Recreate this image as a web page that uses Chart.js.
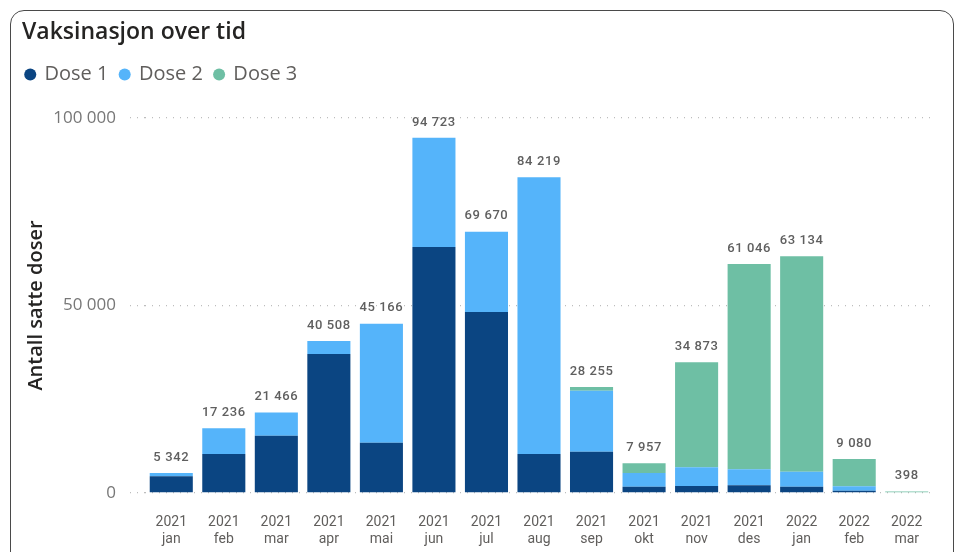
<!DOCTYPE html>
<html>
<head>
<meta charset="utf-8">
<script src="https://cdn.jsdelivr.net/npm/chart.js@4.4.1/dist/chart.umd.min.js"></script>
<style>
  body { margin: 0; background: #fff; }
  #wrap { position: relative; width: 957px; height: 552px; }
  #card { position: absolute; left: 10px; top: 10px; width: 944px; height: 560px;
          border: 1.5px solid #4a4a4a; border-radius: 14px; box-sizing: border-box; pointer-events: none; }
  canvas { position: absolute; left: 0; top: 0; }
</style>
</head>
<body>
<div id="wrap">
  <canvas id="chart" width="957" height="552"></canvas>
  <div id="card"></div>
</div>
<script>
var years = ["2021","2021","2021","2021","2021","2021","2021","2021","2021","2021","2021","2021","2022","2022","2022"];
var months = ["jan","feb","mar","apr","mai","jun","jul","aug","sep","okt","nov","des","jan","feb","mar"];
var dose1 = [4500, 10400, 15280, 37070, 13400, 65600, 48270, 10400, 11000, 1700, 1870, 2050, 1700, 600, 0];
var dose2 = [842, 6836, 6186, 3438, 31766, 29123, 21400, 73819, 16280, 3630, 4980, 4270, 3990, 1180, 0];
var dose3 = [0, 0, 0, 0, 0, 0, 0, 0, 975, 2627, 28023, 54726, 57444, 7300, 398];
var yTicks = [0, 50000, 100000];

function fmt(n) {
    return String(n).replace(/\B(?=(\d{3})+(?!\d))/g, " ");
}

var labels = [];
for (var i = 0; i < months.length; i++) labels.push([years[i], months[i]]);

// totals above each stacked bar
var totalsPlugin = {
    id: 'totals',
    afterDatasetsDraw: function(chart) {
        var ctx = chart.ctx;
        var x = chart.scales.x, y = chart.scales.y;
        ctx.save();
        ctx.font = '500 13px Roboto';
        ctx.letterSpacing = '0.6px';
        ctx.fillStyle = '#5f5f5f';
        ctx.textAlign = 'center';
        ctx.textBaseline = 'bottom';
        for (var i = 0; i < months.length; i++) {
            var t = dose1[i] + dose2[i] + dose3[i];
            ctx.fillText(fmt(t), x.getPixelForValue(i), y.getPixelForValue(t) - 9);
        }
        ctx.restore();
    }
};

// extra room under the legend, and pull it a bit left
var legendGap = {
    id: 'legendGap',
    beforeInit: function(chart) {
        var fit = chart.legend.fit;
        chart.legend.fit = function() {
            fit.bind(chart.legend)();
            this.height = 65.6;
        };
    },
    beforeDraw: function(chart) {
        chart.legend.left = 14;
    }
};

var ctx = document.getElementById("chart").getContext("2d");
new Chart(ctx, {
    type: 'bar',
    data: {
        labels: labels,
        datasets: [
            { label: "Dose 1", data: dose1, backgroundColor: "#0B4582" },
            { label: "Dose 2", data: dose2, backgroundColor: "#55B4FA" },
            { label: "Dose 3", data: dose3, backgroundColor: "#6EBFA4" }
        ]
    },
    options: {
        responsive: false,
        animation: false,
        events: [],
        layout: { padding: { left: 22, right: 24, top: 0, bottom: 0 } },
        datasets: { bar: { categoryPercentage: 1, barPercentage: 0.82 } },
        plugins: {
            title: {
                display: true, text: "Vaksinasjon over tid", align: 'start',
                color: '#252423', font: { family: 'Open Sans', size: 23, weight: '600' },
                padding: { top: 18.5, bottom: 6.3 }
            },
            legend: {
                align: 'start',
                labels: {
                    usePointStyle: true, pointStyle: 'circle', boxWidth: 8.5, boxHeight: 8.5,
                    color: '#605E5C', font: { family: 'Open Sans', size: 20 }, padding: 12
                }
            },
            tooltip: { enabled: false }
        },
        scales: {
            x: {
                stacked: true,
                grid: { display: false },
                border: { display: false },
                afterFit: function(s) { s.height = 59; },
                ticks: { color: '#605E5C', font: { family: 'Roboto', size: 14 }, padding: 13, maxRotation: 0, autoSkip: false }
            },
            y: {
                stacked: true, min: 0, max: 100000,
                afterBuildTicks: function(s) { s.ticks = yTicks.map(function(v) { return { value: v }; }); },
                afterFit: function(s) { s.width = 123; },
                grid: { color: '#bdbdbd', lineWidth: 1.3, drawTicks: true, tickLength: 15, tickBorderDash: [1, 6], tickColor: '#bdbdbd' },
                border: { display: false, dash: [1, 6] },
                ticks: { color: '#777', font: { family: 'Open Sans', size: 17 }, padding: 14, callback: function(v) { return fmt(v); } },
                title: { display: true, text: "Antall satte doser", color: '#252423', font: { family: 'Open Sans', size: 20, weight: '600' }, padding: { top: 2, bottom: 0 } }
            }
        }
    },
    plugins: [totalsPlugin, legendGap]
});
</script>
</body>
</html>
